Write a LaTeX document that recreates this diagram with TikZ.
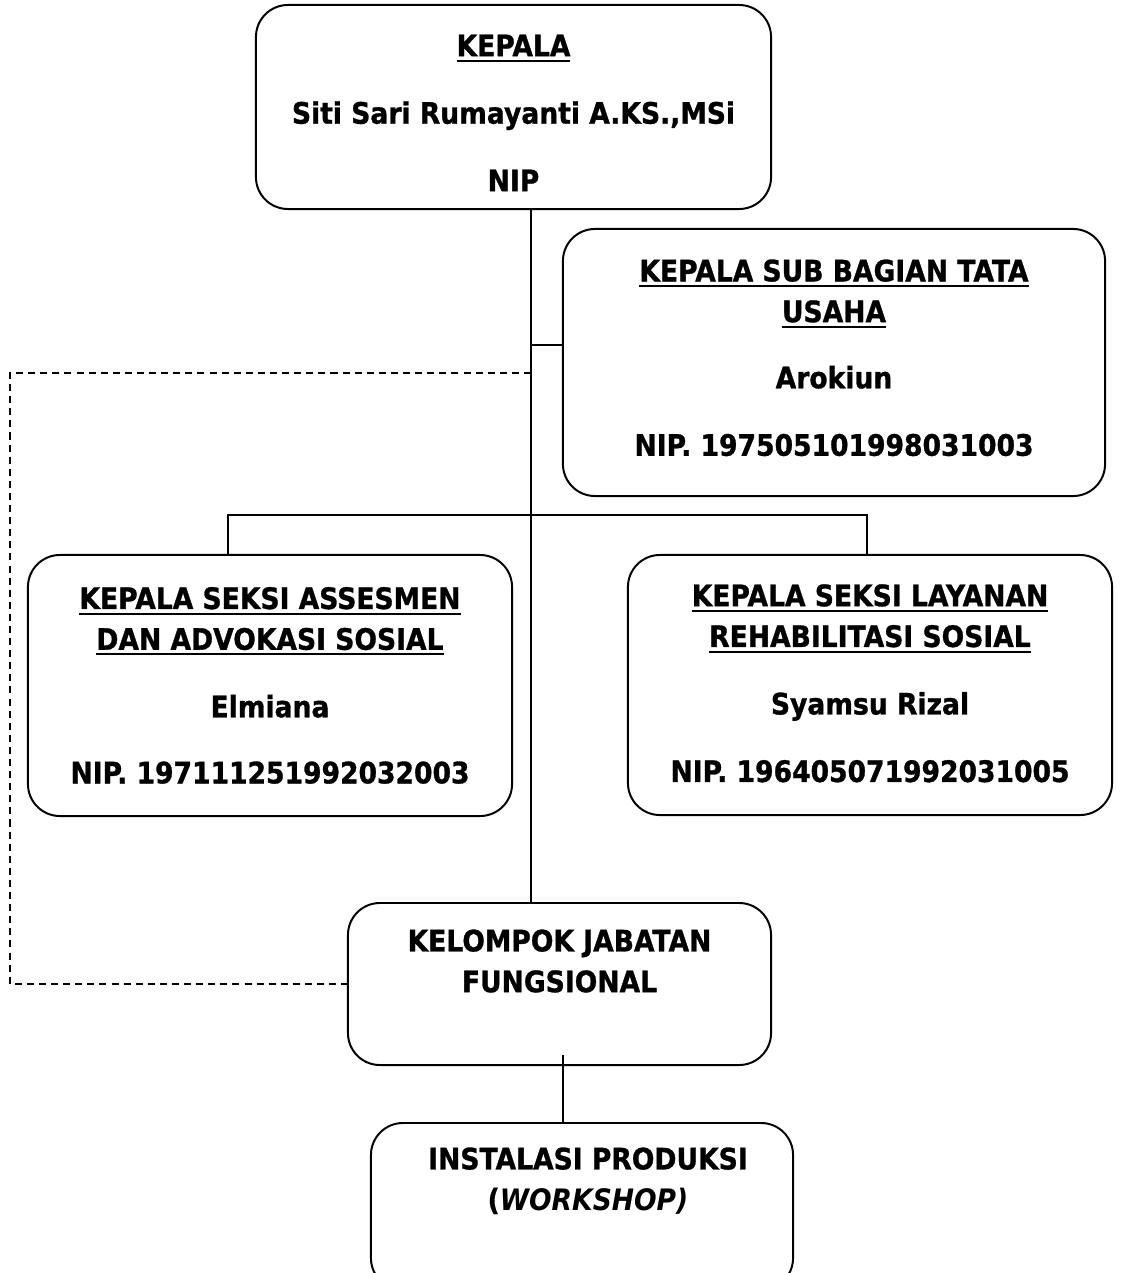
\documentclass[tikz,border=0pt]{standalone}
\usepackage{fontspec}
\setmainfont{DejaVu Sans}[FakeStretch=0.9, BoldFeatures={FakeBold=1}]
\newcommand{\jabfont}{\fontsize{21pt}{29pt}\selectfont\bfseries}
\newcommand{\garisbawah}[1]{\leavevmode\setbox0=\hbox{#1}\rlap{\rule[-4pt]{\wd0}{1.4pt}}\box0}
\tikzset{
  kotak/.style={draw, rounded corners=0.8cm, line width=1.4pt, inner sep=0pt},
  isi/.style={align=center, font=\jabfont, inner sep=0pt, anchor=north},
  garis/.style={line width=1.3pt},
  putus/.style={line width=1.3pt, dash pattern=on 5pt off 3.6pt}
}
\begin{document}
\begin{tikzpicture}[x=0.025cm, y=-0.025cm]
\useasboundingbox (0,0) rectangle (1123,1273);
\node[kotak, minimum width=12.875cm, minimum height=5.1cm] (kepala) at (513.5,107) {};
\node[kotak, minimum width=13.55cm, minimum height=6.675cm] (tatausaha) at (834,362.5) {};
\node[kotak, minimum width=12.1cm, minimum height=6.525cm] (asesmen) at (270,685.5) {};
\node[kotak, minimum width=12.1cm, minimum height=6.5cm] (layanan) at (870,685) {};
\node[kotak, minimum width=10.575cm, minimum height=4.05cm] (kelompok) at (559.5,984) {};
\node[kotak, minimum width=10.55cm, minimum height=4.175cm] (instalasi) at (582,1206.5) {};

\node[isi] (kepalateks) at ([yshift=-0.76cm]kepala.north) {\garisbawah{KEPALA}\\[19pt] Siti Sari Rumayanti A.KS.,MSi\\[19pt] NIP};
\node[isi] (tatausahateks) at ([yshift=-0.78cm]tatausaha.north) {\garisbawah{KEPALA SUB BAGIAN TATA}\\ \garisbawah{USAHA}\\[18pt] Arokiun\\[19pt] NIP. 197505101998031003};
\node[isi] (asesmenteks) at ([yshift=-0.82cm]asesmen.north) {\garisbawah{KEPALA SEKSI ASSESMEN}\\ \garisbawah{DAN ADVOKASI SOSIAL}\\[19pt] Elmiana\\[18pt] NIP. 197111251992032003};
\node[isi] (layananteks) at ([yshift=-0.75cm]layanan.north) {\garisbawah{KEPALA SEKSI LAYANAN}\\ \garisbawah{REHABILITASI SOSIAL}\\[19pt] Syamsu Rizal\\[19pt] NIP. 196405071992031005};
\node[isi] (kelompokteks) at ([yshift=-0.68cm]kelompok.north) {KELOMPOK JABATAN\\ FUNGSIONAL};
\node[isi] (instalasiteks) at ([xshift=0.15cm, yshift=-0.63cm]instalasi.north) {INSTALASI PRODUKSI\\ ({\itshape WORKSHOP)}};

\coordinate (pusat) at (531,0);
\coordinate (cabangtu) at (531,345);
\coordinate (cabangjf) at (531,373);
\coordinate (sudut) at (10,373);
\coordinate (barkiri) at (228,515);
\coordinate (barkanan) at (867,515);
\coordinate (kakijf) at (563,1055);
\draw[garis] (kepala.south -| pusat) -- (kelompok.north -| pusat);
\draw[garis] (cabangtu) -- (cabangtu -| tatausaha.west);
\draw[putus] (cabangjf) -- (sudut) |- (kelompok.west);
\draw[garis] (asesmen.north -| barkiri) -- (barkiri) -- (barkanan) -- (layanan.north -| barkanan);
\draw[garis] (kakijf) -- (instalasi.north -| kakijf);
\end{tikzpicture}
\end{document}
